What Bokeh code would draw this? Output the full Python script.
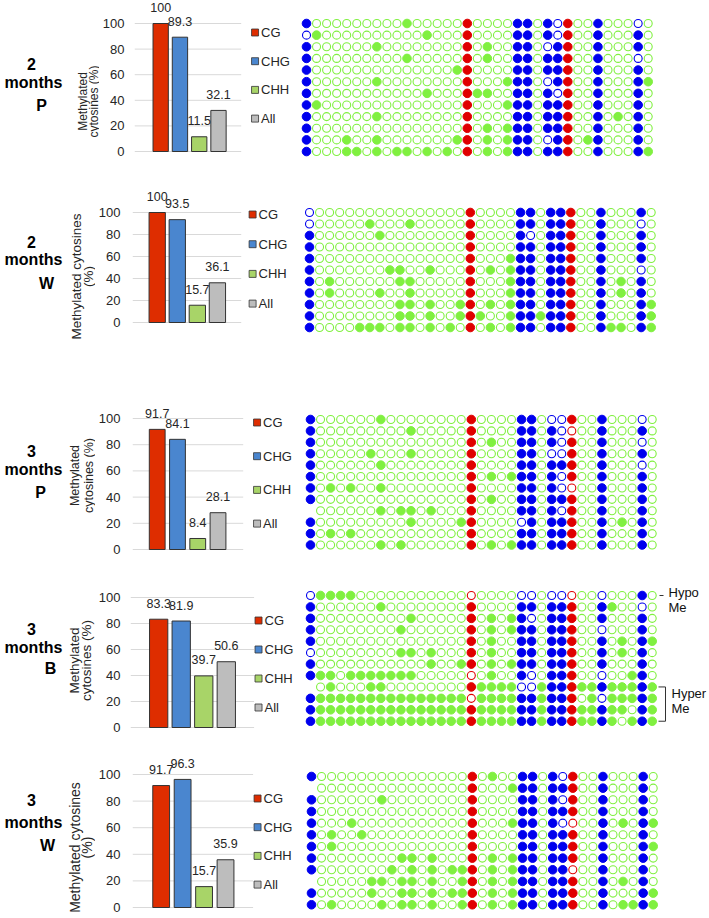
import math
from bokeh.plotting import figure
from bokeh.layouts import column, row
from bokeh.models import Range1d, FixedTicker, ColumnDataSource
from bokeh.core.properties import value
from bokeh.embed import file_html
from bokeh.resources import INLINE

# ---------------- data ----------------
CATEGORIES = ["CG", "CHG", "CHH", "All"]
Y_TICKS = [0, 20, 40, 60, 80, 100]

LABEL_2P = ["2", "months", "P"]
LABEL_2W = ["2", "months", "W"]
LABEL_3P = ["3", "months", "P"]
LABEL_3B = ["3", "months", "B"]
LABEL_3W = ["3", "months", "W"]

VALUES_2P = [100, 89.3, 11.5, 32.1]
VALUES_2W = [100, 93.5, 15.7, 36.1]
VALUES_3P = [91.7, 84.1, 8.4, 28.1]
VALUES_3B = [83.3, 81.9, 39.7, 50.6]
VALUES_3W = [91.7, 96.3, 15.7, 35.9]

# sequence context of each cytosine (column): C = CG, G = CHG, H = CHH
SITE_CONTEXT = "GHHHHHHHHHHHHHHHCHHHHGGHGGCHHGHHHGH"

# methylated columns per clone (row)
METH_2P = [
    [1, 11, 17, 22, 23, 25, 27, 30],
    [2, 13, 17, 22, 23, 25, 27, 30, 34],
    [1, 8, 17, 19, 22, 23, 26, 27, 30, 34],
    [1, 11, 17, 19, 22, 23, 25, 26, 27, 30],
    [1, 16, 17, 22, 23, 25, 26, 27, 30, 34],
    [1, 8, 17, 21, 22, 23, 26, 27, 30, 34, 35],
    [1, 13, 17, 18, 19, 22, 23, 25, 27, 30, 34],
    [1, 2, 17, 21, 22, 23, 25, 26, 27, 30, 34],
    [1, 8, 17, 22, 23, 25, 26, 27, 30, 32, 34],
    [1, 17, 19, 21, 22, 23, 25, 26, 27, 30, 34],
    [1, 5, 8, 16, 17, 19, 21, 22, 23, 26, 27, 29, 30, 34],
    [1, 5, 6, 8, 10, 11, 13, 15, 17, 19, 21, 22, 23, 25, 26, 27, 30, 34, 35],
]
MISSING_2P = []

METH_2W = [
    [17, 22, 23, 25, 26, 27, 30, 34],
    [7, 11, 17, 22, 23, 25, 26, 27, 30],
    [1, 8, 17, 22, 25, 26, 27, 30, 34],
    [1, 17, 22, 23, 25, 26, 27, 30, 34],
    [1, 17, 21, 22, 23, 25, 26, 27, 30, 34],
    [1, 9, 10, 13, 17, 19, 21, 22, 23, 25, 26, 27, 30],
    [1, 3, 10, 11, 17, 21, 22, 23, 25, 26, 27, 30, 32, 34],
    [1, 3, 8, 11, 17, 21, 22, 23, 25, 26, 27, 30, 32, 34],
    [1, 10, 11, 13, 16, 17, 19, 21, 22, 23, 25, 26, 27, 30, 34, 35],
    [1, 10, 11, 13, 16, 17, 18, 21, 22, 23, 24, 25, 26, 27, 30, 34, 35],
    [1, 6, 7, 8, 10, 11, 13, 15, 17, 19, 21, 22, 23, 25, 26, 27, 30, 31, 32, 34, 35],
]
MISSING_2W = []

METH_3P = [
    [1, 8, 17, 22, 23, 27, 30],
    [1, 11, 17, 22, 23, 25, 30, 34],
    [1, 17, 19, 22, 23, 25, 27, 30],
    [1, 7, 11, 17, 22, 23, 27, 30, 34],
    [1, 8, 17, 22, 23, 25, 26, 27, 30],
    [1, 17, 19, 21, 22, 23, 25, 27, 30, 34],
    [1, 3, 5, 8, 17, 22, 23, 25, 30, 34],
    [1, 17, 19, 22, 23, 25, 26, 27, 30, 34],
    [8, 10, 11, 13, 17, 22, 23, 25, 27, 30, 34],
    [1, 11, 16, 17, 23, 25, 26, 27, 30, 32, 34],
    [1, 3, 5, 17, 22, 23, 25, 26, 27, 30, 34],
    [1, 8, 10, 17, 19, 21, 22, 23, 25, 26, 27, 30, 34],
]
MISSING_3P = [(9, 1)]

METH_3B = [
    [2, 3, 4, 5, 34],
    [1, 8, 17, 22, 23, 25, 26, 27, 30, 31],
    [1, 11, 17, 19, 21, 22, 25, 26, 27, 30, 34],
    [1, 10, 17, 19, 21, 22, 23, 25, 26, 27, 34],
    [1, 17, 19, 22, 23, 25, 26, 27, 30, 32, 34, 35],
    [10, 11, 13, 17, 19, 22, 23, 25, 26, 27, 30, 32, 34],
    [1, 13, 16, 17, 19, 21, 22, 23, 25, 26, 27, 30, 34],
    [1, 2, 3, 5, 6, 7, 8, 9, 10, 11, 19, 22, 25, 26, 27, 33, 34],
    [3, 7, 8, 17, 18, 19, 20, 21, 24, 25, 26, 27, 28, 29, 30, 31, 32, 33, 34, 35],
    [1, 2, 3, 4, 5, 6, 7, 8, 9, 10, 11, 12, 13, 14, 15, 16, 18, 19, 20, 21, 22, 23,
     24, 25, 26, 27, 29, 31, 32, 33, 34, 35],
    [1, 2, 3, 4, 5, 6, 7, 8, 9, 10, 11, 12, 13, 14, 15, 16, 17, 18, 19, 20, 21, 22,
     23, 24, 25, 26, 27, 28, 29, 30, 31, 32, 34, 35],
    [1, 2, 3, 4, 5, 6, 7, 8, 9, 10, 11, 12, 13, 14, 15, 16, 17, 18, 19, 20, 21, 22,
     23, 24, 25, 26, 27, 28, 29, 30, 31, 33, 34, 35],
]
MISSING_3B = [(9, 1)]

METH_3W = [
    [1, 17, 19, 22, 23, 25, 27, 30, 34],
    [17, 21, 22, 23, 25, 26, 27, 30, 34],
    [1, 8, 17, 22, 23, 25, 27, 30, 34],
    [1, 17, 22, 23, 25, 26, 27, 30, 34],
    [1, 5, 17, 21, 22, 23, 25, 30, 32, 34, 35],
    [1, 3, 6, 17, 22, 23, 25, 26, 27, 30, 34],
    [1, 3, 17, 22, 23, 25, 26, 27, 30, 34, 35],
    [1, 10, 11, 13, 17, 19, 21, 22, 23, 25, 26, 27, 30, 34],
    [1, 9, 11, 13, 15, 16, 17, 19, 21, 22, 23, 25, 26, 30, 34],
    [7, 8, 10, 11, 13, 16, 17, 19, 21, 22, 23, 25, 26, 27, 30, 32, 34],
    [1, 7, 10, 11, 13, 15, 16, 17, 19, 21, 22, 23, 25, 26, 27, 30, 34, 35],
    [1, 3, 8, 10, 11, 13, 16, 17, 19, 21, 22, 23, 25, 26, 27, 30, 32, 33, 34, 35],
]
MISSING_3W = [(2, 1), (10, 1)]

HYPO_LABEL = ["Hypo", "Me"]
HYPER_LABEL = ["Hyper", "Me"]
HYPO_ROWS = [1, 1]
HYPER_ROWS = [9, 12]

# ---------------- style / layout ----------------
FONT = "Liberation Sans"
TEXT_COLOR = "#262626"
BAR_COLORS = ["#de2d00", "#4a86cf", "#a8d468", "#bdbdbd"]
SITE_COLORS = {"C": "#e00000", "G": "#0000ee", "H": "#80f040"}
COL_STEP = 10.05
PAGE_W = 709

LAYOUT = [
    dict(top=0, bottom=183, ft=23, fb=151, frame_left=132, standoff=10, grid_right=240,
         c0=158.5, step=19.5, bw=15.5, leg_x=254, leg_y0=32, leg_step=28.7,
         col1=306, row1=23, row_step=11.64,
         label_x=[31, 33, 41], label_base=[63, 82, 105],
         title_x=[82, 93], title_cy=101, title_size="12px"),
    dict(top=183, bottom=365, ft=212, fb=322, frame_left=130, standoff=12, grid_right=240,
         c0=155, step=20.3, bw=16.5, leg_x=251.5, leg_y0=214, leg_step=29.7,
         col1=309, row1=212, row_step=11.5,
         label_x=[31, 33, 46], label_base=[241, 259, 283],
         title_x=[76, 88], title_cy=276, title_size="13.5px"),
    dict(top=365, bottom=560, ft=418, fb=549, frame_left=130, standoff=12, grid_right=242,
         c0=155, step=20.5, bw=16, leg_x=256, leg_y0=422, leg_step=33.7,
         col1=310, row1=419, row_step=11.41,
         label_x=[31, 33, 40], label_base=[450, 469, 492],
         title_x=[74, 88], title_cy=475, title_size="12.5px"),
    dict(top=560, bottom=740, ft=597, fb=727, frame_left=128, standoff=10, grid_right=253,
         c0=156.5, step=22.8, bw=18.5, leg_x=257.5, leg_y0=620, leg_step=29,
         col1=310, row1=595, row_step=11.43,
         label_x=[31, 33, 50], label_base=[628, 647, 668],
         title_x=[74, 86], title_cy=660, title_size="13.5px"),
    dict(top=740, bottom=918, ft=774, fb=907, frame_left=130, standoff=12, grid_right=252,
         c0=159, step=21.7, bw=17, leg_x=256.5, leg_y0=798, leg_step=28.7,
         col1=311, row1=776, row_step=11.66,
         label_x=[31, 33, 47], label_base=[799, 822, 845],
         title_x=[74, 86], title_cy=847, title_size="14px"),
]

PANELS = [
    (VALUES_2P, METH_2P, MISSING_2P, LABEL_2P, ["Methylated", "cytosines (%)"]),
    (VALUES_2W, METH_2W, MISSING_2W, LABEL_2W, ["Methylated cytosines", "(%)"]),
    (VALUES_3P, METH_3P, MISSING_3P, LABEL_3P, ["Methylated", "cytosines (%)"]),
    (VALUES_3B, METH_3B, MISSING_3B, LABEL_3B, ["Methylated", "cytosines (%)"]),
    (VALUES_3W, METH_3W, MISSING_3W, LABEL_3W, ["Methylated cytosines", "(%)"]),
]


def split_x(cfg):
    # left edge of the bar figure: room for the tick labels only
    return int(cfg["frame_left"] - cfg["standoff"] - 23)


def label_figure(cfg, label_lines, title_lines):
    top, bottom = cfg["top"], cfg["bottom"]
    w = split_x(cfg)
    p = figure(width=w, height=bottom - top, x_range=Range1d(0, w),
               y_range=Range1d(bottom, top), x_axis_type=None, y_axis_type=None,
               output_backend="svg", toolbar_location=None, min_border=0)
    p.outline_line_color = None
    p.text(x=cfg["label_x"], y=cfg["label_base"], text=label_lines,
           text_align="center", text_baseline="alphabetic", text_font=value(FONT),
           text_font_size="16px", text_font_style="bold", text_color="#000000")
    p.text(x=cfg["title_x"], y=[cfg["title_cy"]] * len(title_lines), text=title_lines,
           angle=math.pi / 2, text_align="center", text_baseline="middle",
           text_font=value(FONT), text_font_size=cfg["title_size"],
           text_color=TEXT_COLOR)
    return p


def bar_figure(cfg, values):
    top, bottom = cfg["top"], cfg["bottom"]
    height = bottom - top
    left = split_x(cfg)
    width = (cfg["col1"] - 6) - left
    fl = cfg["frame_left"]
    mbl = fl - left
    frame_w = width - mbl
    step = cfg["step"]
    x0 = -(cfg["c0"] - fl) / step
    x1 = x0 + frame_w / step
    per = (cfg["fb"] - cfg["ft"]) / 100.0
    y0 = -(bottom - cfg["fb"]) / per
    y1 = 100 + (cfg["ft"] - top) / per

    def dx(px):
        return x0 + (px - fl) / step

    def dy(py):
        return (cfg["fb"] - py) / per

    p = figure(width=width, height=height, x_range=Range1d(x0, x1),
               y_range=Range1d(y0, y1), x_axis_type=None,
               output_backend="svg", toolbar_location=None,
               min_border=0, min_border_left=mbl)
    p.outline_line_color = None
    p.grid.visible = False

    ax = p.yaxis[0]
    ax.ticker = FixedTicker(ticks=Y_TICKS)
    ax.axis_line_color = None
    ax.major_tick_line_color = None
    ax.minor_tick_line_color = None
    ax.major_tick_out = 0
    ax.major_tick_in = 0
    ax.minor_tick_out = 0
    ax.minor_tick_in = 0
    ax.major_label_standoff = cfg["standoff"]
    ax.major_label_text_font = FONT
    ax.major_label_text_font_size = "13px"
    ax.major_label_text_color = TEXT_COLOR

    n = len(Y_TICKS)
    p.segment(x0=[x0] * n, y0=Y_TICKS, x1=[dx(cfg["grid_right"])] * n, y1=Y_TICKS,
              line_color="#d9d9d9", line_width=1, level="underlay")

    src = ColumnDataSource(dict(
        x=list(range(len(CATEGORIES))), top=values, color=BAR_COLORS,
        label=[f"{v:g}" for v in values]))
    p.vbar(x="x", top="top", bottom=0, width=cfg["bw"] / step, fill_color="color",
           line_color="#333333", line_width=1, source=src)
    p.text(x="x", y="top", text="label", text_align="center", text_baseline="middle",
           y_offset=-16, text_font=value(FONT), text_font_size="12.5px",
           text_color=TEXT_COLOR, source=src)

    lx = dx(cfg["leg_x"])
    leg = ColumnDataSource(dict(
        x=[lx] * len(CATEGORIES),
        y=[dy(cfg["leg_y0"] + i * cfg["leg_step"]) for i in range(len(CATEGORIES))],
        color=BAR_COLORS, cat=CATEGORIES))
    p.scatter(x="x", y="y", marker="square", size=7, fill_color="color",
              line_color="#333333", line_width=0.8, source=leg)
    p.text(x="x", y="y", text="cat", x_offset=6, text_align="left",
           text_baseline="middle", text_font=value(FONT), text_font_size="13px",
           text_color=TEXT_COLOR, source=leg)
    return p


def dot_figure(cfg, methylated, missing, annotate=False):
    top, bottom = cfg["top"], cfg["bottom"]
    height = bottom - top
    left = cfg["col1"] - 6
    width = PAGE_W - left
    xs0 = 1 - 6 / COL_STEP
    xs1 = xs0 + width / COL_STEP
    rs = cfg["row_step"]
    yb = 1 + (bottom - cfg["row1"]) / rs
    yt = 1 + (top - cfg["row1"]) / rs
    q = figure(width=width, height=height, x_range=Range1d(xs0, xs1),
               y_range=Range1d(yb, yt), x_axis_type=None, y_axis_type=None,
               output_backend="svg", toolbar_location=None, min_border=0)
    q.outline_line_color = None

    fx, fy, fc, ox, oy, oc = [], [], [], [], [], []
    miss = set(missing)
    for r, sites in enumerate(methylated, start=1):
        for c, ctx in enumerate(SITE_CONTEXT, start=1):
            if (r, c) in miss:
                continue
            col = SITE_COLORS[ctx]
            if c in sites:
                fx.append(c); fy.append(r); fc.append(col)
            else:
                ox.append(c); oy.append(r); oc.append(col)
    q.scatter(x=ox, y=oy, marker="circle", size=8, fill_color="white",
              line_color=oc, line_width=1.1)
    q.scatter(x=fx, y=fy, marker="circle", size=8.6, fill_color=fc,
              line_color=fc, line_width=1)

    if annotate:
        def cx(px):
            return 1 + (px - cfg["col1"]) / COL_STEP
        q.segment(x0=[cx(659)], y0=[HYPO_ROWS[0]], x1=[cx(663)], y1=[HYPO_ROWS[1]],
                  line_color="#333333", line_width=1)
        q.text(x=[cx(668)] * 2, y=[HYPO_ROWS[0]] * 2, text=HYPO_LABEL,
               y_offset=[-3, 12], text_align="left", text_baseline="middle",
               text_font=value(FONT), text_font_size="13px", text_color="#111111")
        a, b = cx(658), cx(665)
        q.line(x=[a, b, b, a], y=[HYPER_ROWS[0], HYPER_ROWS[0], HYPER_ROWS[1], HYPER_ROWS[1]],
               line_color="#333333", line_width=1)
        q.text(x=[cx(671)] * 2, y=[HYPER_ROWS[0]] * 2, text=HYPER_LABEL,
               y_offset=[7, 22], text_align="left", text_baseline="middle",
               text_font=value(FONT), text_font_size="13px", text_color="#111111")
    return q


rows = []
for i, (cfg, (vals, meth, miss, lab, title)) in enumerate(zip(LAYOUT, PANELS)):
    rows.append(row(label_figure(cfg, lab, title), bar_figure(cfg, vals),
                    dot_figure(cfg, meth, miss, annotate=(i == 3))))

layout = column(*rows)
open("out.html", "w").write(file_html(layout, INLINE))
